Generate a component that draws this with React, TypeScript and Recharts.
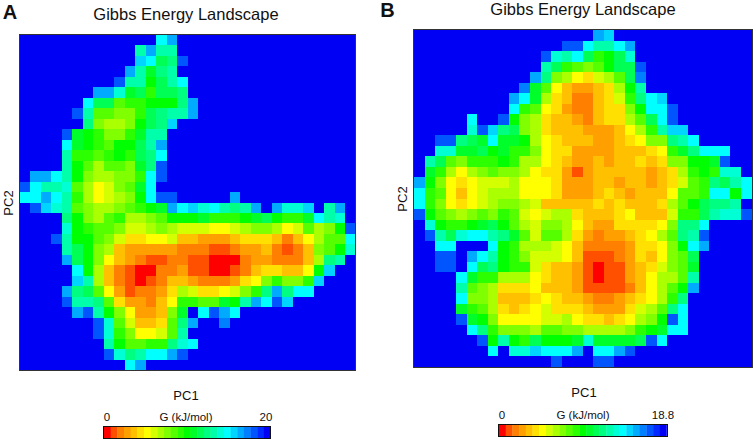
import { CSSProperties } from 'react';
import { BarChart, Bar, Cell, ScatterChart, Scatter, XAxis, YAxis } from 'recharts';

// each row: first column with signal, then one letter per cell (a = 0 ... y = top of scale, . = top of scale)
const gridA: [number, string][] = [
  [13, 'su'],
  [11, 'quqq'],
  [11, 'tsopw'],
  [10, 'uqnpq'],
  [9, 'wqqmoqs'],
  [7, 'uurnoloop'],
  [6, 'sookllmmmpu'],
  [5, 'wqkkjjlopqqu'],
  [6, 'pjiijmopt'],
  [4, 'wnmljjlnqq'],
  [4, 'snmlkmmoqu'],
  [4, 'qllklmlops'],
  [4, 'qmkikkjnpw'],
  [1, 'uusqmjiijjlsw'],
  [0, 'wsqqrkighjkns'],
  [0, 'ssusqlighijmsww.....u'],
  [1, 'wtrqkjiijklmnustrsqpqu.urrt.qu'],
  [4, 'pmjikliijkmmmnlllmnomllnsqr'],
  [4, 'rmlkkjhhijihhhgghijjighkijmw'],
  [3, 'wqmmkjhffggheedddefffecegikks'],
  [4, 'qomjiedddddcccbbcddecbcejkmr'],
  [4, 'uomjgedcbbccbbaaacddccceipq'],
  [5, 'smiecbaaccdbbaabceffeegmt'],
  [5, 'tqiecbabceedcccdfgjljjlt'],
  [4, 'upokgdbccdfihffghjlpupss'],
  [4, 'wqqpkfddcegllkknmquswt'],
  [5, 'uwqmjgddejn.swus'],
  [7, 'wrkheefkpu..v'],
  [7, 'wrljgghkq'],
  [8, 'qmkkllprs'],
  [8, 'wrpqssuw'],
  [10, 'su'],
];

const gridB: [number, string][] = [
  [17, 'ut'],
  [14, 'wwsqqsu'],
  [12, 'wrqsolmor'],
  [12, 'qolkjkmoow'],
  [11, 'upjigfhikov'],
  [10, 'vnkgeddefimq'],
  [9, 'usnifeccefhlpst'],
  [9, 'slkgfdcceffjmssw'],
  [5, 's..wmjifeedceffikosw'],
  [5, 'rwtpojifeeedddegilqtt'],
  [2, 'wwponsnnmigfeeeddefgjjpqs'],
  [2, 'rrnnomnlljgffddddeeefglnpsss'],
  [1, 'qokjlllmliigfeddedeefefjjmmnw'],
  [1, 'nligijkjjigffdbdeeeeedefilmlrr'],
  [0, 'umjgfghhhigggfdddeedeedefhklpoqs'],
  [0, 'slkgeghiiigggfdddefedeeegkklssms'],
  [0, 'sljgfghijjiheeeeefefeeefikmoppq.'],
  [0, 'wmkjijkjlkhghiifeeefgeeehlloqrrw'],
  [1, 'rmllmnomkihjjigeddffffgjpps'],
  [1, 'wqorssqpnkhkkifdcddefgikpqw'],
  [2, 'ss...smliiihgeccccdffgjmsu'],
  [2, 'ww.usqmljhhhgebbbcdfegjko'],
  [2, 'ww.sopmllhfeedbabbdefhjkn'],
  [4, 'snlliiigfeedbabbdegiikq'],
  [4, 'qkjifffgeeedbbbbcegikmu'],
  [4, 'sjjieeefgfeedccdefgilp'],
  [4, 'nlkifefghfffedddfhikps'],
  [4, 'wnmjgggghhigffefgijmws'],
  [5, 'spljjjikkjjiiiijlmnss'],
  [6, 'wmqmlommmnrnnnnows'],
  [7, 's.rrtsssu.ssuw'],
  [13, 'w...ww'],
];

const GRID_SIZE = 32;
const LEVELS = 25;
const scaleLevels = Array.from({ length: LEVELS }, (_, i) => ({ level: i, h: 1 }));

// green channel of the red -> yellow stretch
const warmGreen = [0, 80, 128, 160, 192, 224];

// red -> yellow -> green -> cyan -> blue
const levelColor = (level: number) => {
  if (level < 6) return `rgb(255,${warmGreen[level]},0)`;
  const t = level / 6;
  const up = (f: number) => Math.round(f * 255);
  if (t <= 2) return `rgb(${up(2 - t)},255,0)`;
  if (t <= 3) return `rgb(0,255,${up(t - 2)})`;
  if (level === LEVELS - 1) return 'rgb(0,0,245)';
  return `rgb(0,${up(4 - t)},255)`;
};

const buildCells = (grid: [number, string][], maxG: number) => {
  const cells = [];
  for (let row = 0; row < GRID_SIZE; row++) {
    const [start, letters] = grid[row];
    for (let col = 0; col < GRID_SIZE; col++) {
      const ch = letters[col - start];
      const level = ch && ch !== '.' ? ch.charCodeAt(0) - 97 : LEVELS - 1;
      cells.push({ pc1: col + 0.5, pc2: row + 0.5, g: (level / (LEVELS - 1)) * maxG, level });
    }
  }
  return cells;
};

const textBase: CSSProperties = {
  position: 'absolute',
  fontFamily: '"Liberation Sans", Arial, sans-serif',
  color: '#111',
  whiteSpace: 'nowrap',
  lineHeight: 1,
};

function Caption({ x, y, size, bold, rotate, children }: any) {
  return (
    <div
      style={{
        ...textBase,
        left: x,
        top: y,
        fontSize: size,
        fontWeight: bold ? 700 : 400,
        transform: `translate(-50%, -50%)${rotate ? ' rotate(-90deg)' : ''}`,
      }}
    >
      {children}
    </div>
  );
}

interface PanelProps {
  grid: [number, string][];
  maxG: number;
  x: number;
  y: number;
  w: number;
  h: number;
}

function Landscape({ grid, maxG, x, y, w, h }: PanelProps) {
  const cw = w / GRID_SIZE;
  const ch = h / GRID_SIZE;
  const drawCell = (props: any) => (
    <rect
      x={props.cx - cw / 2}
      y={props.cy - ch / 2}
      width={cw + 0.5}
      height={ch + 0.5}
      fill={levelColor(props.payload.level)}
      shapeRendering="crispEdges"
    />
  );
  return (
    <div style={{ position: 'absolute', left: x, top: y, width: w, height: h, background: levelColor(LEVELS - 1), outline: '1.5px solid #333' }}>
      <ScatterChart width={w} height={h} margin={{ top: 0, right: 0, bottom: 0, left: 0 }}>
        <XAxis type="number" dataKey="pc1" domain={[0, GRID_SIZE]} hide />
        <YAxis type="number" dataKey="pc2" domain={[0, GRID_SIZE]} reversed hide />
        <Scatter data={buildCells(grid, maxG)} shape={drawCell} isAnimationActive={false} />
      </ScatterChart>
    </div>
  );
}

function ColorScale({ x, y, w, h }: { x: number; y: number; w: number; h: number }) {
  return (
    <div style={{ position: 'absolute', left: x, top: y, width: w, height: h, outline: '1.2px solid #111' }}>
      <BarChart width={w} height={h} data={scaleLevels} barCategoryGap={0} margin={{ top: 0, right: 0, bottom: 0, left: 0 }}>
        <XAxis dataKey="level" hide />
        <YAxis domain={[0, 1]} hide />
        <Bar dataKey="h" isAnimationActive={false}>
          {scaleLevels.map((d) => (
            <Cell key={d.level} fill={levelColor(d.level)} />
          ))}
        </Bar>
      </BarChart>
    </div>
  );
}

export default function App() {
  return (
    <div style={{ position: 'absolute', left: 0, top: 0, width: 754, height: 441, background: '#fff', overflow: 'hidden' }}>
      <Caption x={10} y={12} size={20} bold>A</Caption>
      <Caption x={387.5} y={10} size={20} bold>B</Caption>
      <Caption x={186} y={14} size={16.5}>Gibbs Energy Landscape</Caption>
      <Caption x={583} y={9} size={16.5}>Gibbs Energy Landscape</Caption>

      <Landscape grid={gridA} maxG={20} x={19.5} y={34.5} w={335.5} h={335} />
      <Landscape grid={gridB} maxG={18.8} x={414} y={29.5} w={337.5} h={337} />

      <Caption x={8} y={203} size={13} rotate>PC2</Caption>
      <Caption x={402} y={199} size={13} rotate>PC2</Caption>
      <Caption x={186} y={395} size={13}>PC1</Caption>
      <Caption x={584} y={392} size={13}>PC1</Caption>

      <Caption x={107} y={418} size={11.5}>0</Caption>
      <Caption x={186} y={418} size={11.5}>G (kJ/mol)</Caption>
      <Caption x={266} y={418} size={11.5}>20</Caption>
      <ColorScale x={103.5} y={427} w={166.5} h={11} />

      <Caption x={502} y={416} size={11.5}>0</Caption>
      <Caption x={583} y={416} size={11.5}>G (kJ/mol)</Caption>
      <Caption x={663} y={416} size={11.5}>18.8</Caption>
      <ColorScale x={499} y={424.5} w={167.5} h={11} />
    </div>
  );
}
